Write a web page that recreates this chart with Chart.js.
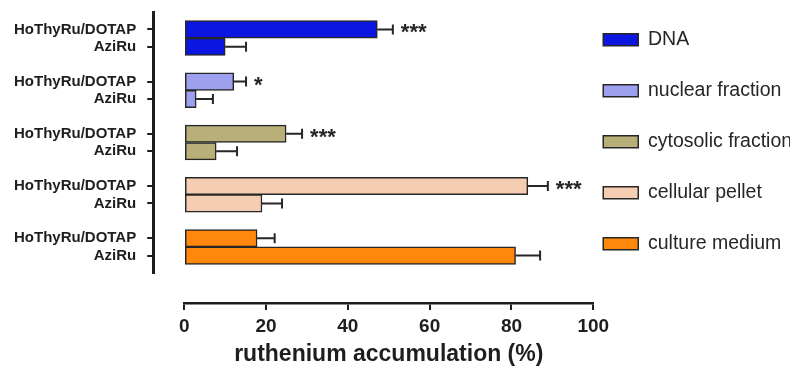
<!DOCTYPE html>
<html>
<head>
<meta charset="utf-8">
<script src="https://cdn.jsdelivr.net/npm/chart.js@4.4.0/dist/chart.umd.min.js"></script>
<style>
  body { margin: 0; background: #fff; }
</style>
</head>
<body>
<canvas id="myChart" width="803" height="368"></canvas>
<script>
const fractions = ['DNA', 'nuclear fraction', 'cytosolic fraction', 'cellular pellet', 'culture medium'];
const formulations = ['HoThyRu/DOTAP', 'AziRu'];
const hoThyRuValues = [47.2, 12.1, 24.9, 84.0, 17.8];
const hoThyRuErrors = [3.8, 3.0, 3.9, 4.9, 4.3];
const aziRuValues = [10.0, 2.9, 7.8, 19.0, 81.0];
const aziRuErrors = [5.1, 4.1, 5.1, 4.9, 6.0];
const significance = ['***', '*', '***', '***', ''];
const xMin = 0;
const xMax = 100;
const xStep = 20;

const colours = ['#0b16e0', '#9ca0ee', '#b8b078', '#f5cdb2', '#ff880c'];
const ink = '#1e1e1e';

Chart.defaults.font.family = "'Liberation Sans', Arial, sans-serif";
Chart.defaults.color = ink;

// one row per bar, with a blank row between groups and at both ends
const rowLabels = [''];
fractions.forEach(() => rowLabels.push(formulations[0], formulations[1], ''));

function rowsFor(i, first, second) {
  const arr = rowLabels.map(() => null);
  arr[1 + 3 * i] = first;
  arr[2 + 3 * i] = second;
  return arr;
}

const datasets = fractions.map((name, i) => ({
  label: name,
  data: rowsFor(i, hoThyRuValues[i], aziRuValues[i]),
  errors: rowsFor(i, hoThyRuErrors[i], aziRuErrors[i]),
  marks: rowsFor(i, significance[i], ''),
  backgroundColor: colours[i],
  borderColor: '#262626',
  borderWidth: 1.5,
  borderSkipped: false,
  barPercentage: 1,
  categoryPercentage: 1,
  grouped: false,
  xAxisID: 'x',
  yAxisID: 'y',
}));

const errorBars = {
  id: 'errorBars',
  afterDatasetsDraw(chart) {
    const { ctx } = chart;
    const x = chart.scales.x;
    ctx.save();
    chart.data.datasets.forEach((ds, di) => {
      const meta = chart.getDatasetMeta(di);
      meta.data.forEach((bar, j) => {
        if (ds.data[j] == null) return;
        const end = x.getPixelForValue(ds.data[j] + ds.errors[j]);
        ctx.strokeStyle = '#262626';
        ctx.lineWidth = 2;
        ctx.beginPath();
        ctx.moveTo(bar.x, bar.y);
        ctx.lineTo(end, bar.y);
        ctx.moveTo(end, bar.y - 5);
        ctx.lineTo(end, bar.y + 5);
        ctx.stroke();
        if (ds.marks[j]) {
          ctx.fillStyle = '#262626';
          ctx.font = "bold 22px 'Liberation Sans', Arial, sans-serif";
          ctx.textAlign = 'left';
          ctx.textBaseline = 'alphabetic';
          ctx.fillText(ds.marks[j], end + 8, bar.y + 10);
        }
      });
    });
    ctx.restore();
  }
};

const ctx = document.getElementById('myChart').getContext('2d');

const chart = new Chart(ctx, {
  type: 'bar',
  data: {
    labels: rowLabels,
    datasets: datasets,
  },
  options: {
    responsive: false,
    animation: false,
    indexAxis: 'y',
    layout: { padding: { top: 12, left: 3, right: 13, bottom: 0 } },
    plugins: {
      tooltip: { enabled: false },
      legend: {
        position: 'right',
        align: 'start',
        title: { display: true, text: '', padding: 0, font: { size: 8, lineHeight: 1 } },
        labels: {
          boxWidth: 35,
          boxHeight: 12,
          padding: 10,
          color: '#262626',
          font: { size: 19.5, lineHeight: 41 / 19.5 },
          generateLabels(c) {
            return Chart.defaults.plugins.legend.labels.generateLabels(c)
              .map(item => Object.assign(item, { text: [item.text] }));
          }
        }
      }
    },
    scales: {
      y: {
        type: 'category',
        position: 'left',
        stack: 'left',
        stackWeight: 261,
        weight: 1,
        offset: false,
        afterFit(s) {
          s.paddingTop = 0;
          s.paddingBottom = 0;
        },
        grid: {
          display: true,
          drawOnChartArea: false,
          drawTicks: true,
          tickLength: 6,
          offset: false,
          lineWidth: 2,
          color: c => (c.tick && c.tick.label ? ink : 'rgba(0,0,0,0)'),
        },
        border: { display: true, color: ink, width: 3 },
        ticks: {
          autoSkip: false,
          padding: 11,
          color: ink,
          font: { size: 15, weight: 'bold' },
        },
      },
      ySpacer: {
        type: 'linear',
        axis: 'y',
        position: 'left',
        stack: 'left',
        stackWeight: 30,
        weight: 0,
        display: false,
      },
      xSpacer: {
        type: 'linear',
        axis: 'x',
        position: 'bottom',
        stack: 'bottom',
        stackWeight: 31,
        weight: 0,
        display: true,
        grid: { display: false },
        border: { display: false },
        ticks: { display: false },
        afterFit(s) { s.height = 65; },
      },
      x: {
        type: 'linear',
        position: 'bottom',
        stack: 'bottom',
        stackWeight: 408,
        weight: 1,
        min: xMin,
        max: xMax,
        afterFit(s) { s.height = 65; },
        grid: {
          display: true,
          drawOnChartArea: false,
          drawTicks: true,
          tickLength: 7,
          lineWidth: 2,
          color: ink,
        },
        border: { display: true, color: ink, width: 2.5 },
        ticks: {
          stepSize: xStep,
          padding: 5,
          maxRotation: 0,
          minRotation: 0,
          color: ink,
          font: { size: 19, weight: 'bold' },
        },
        title: {
          display: true,
          text: 'ruthenium accumulation (%)',
          color: ink,
          font: { size: 23, weight: 'bold' },
          padding: { top: 4, bottom: 0 },
        },
      },
    },
  },
  plugins: [errorBars],
});
</script>
</body>
</html>
